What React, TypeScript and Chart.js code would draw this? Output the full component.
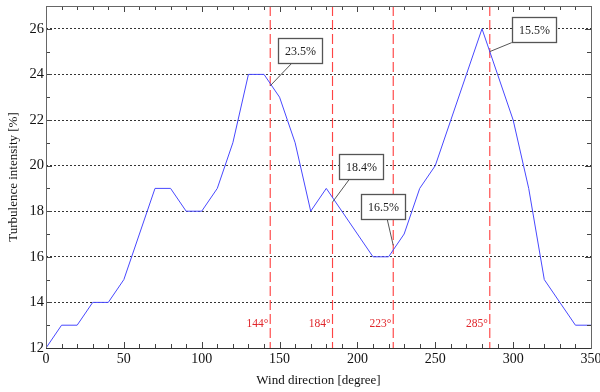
import React, { useEffect, useRef } from "react";
import { Chart, registerables } from "chart.js";

Chart.register(...registerables);

const directions = [0, 10, 20, 30, 40, 50, 60, 70, 80, 90, 100, 110, 120, 130, 140, 150, 160, 170, 180, 190, 200, 210, 220, 230, 240, 250, 260, 270, 280, 290, 300, 310, 320, 330, 340, 350];
const turbulence = [12, 13, 13, 14, 14, 15, 17, 19, 19, 18, 18, 19, 21, 24, 24, 23, 21, 18, 19, 18, 17, 16, 16, 17, 19, 20, 22, 24, 26, 24, 22, 19, 15, 14, 13, 13];

const markerAngles = [144, 184, 223, 285];
const markerLabels = ["144°", "184°", "223°", "285°"];

const calloutTexts = ["23.5%", "18.4%", "16.5%", "15.5%"];
const calloutX = [144, 184, 223, 285];
const calloutY = [23.5, 18.4, 16.5, 25];

// pixel layout of callout boxes relative to anchor: [boxLeft, boxTop, attachX, attachY]
const calloutLayout = [
  [8, -48, 22, -23],
  [6, -48, 17, -23],
  [-32, -51, -6, -26],
  [22, -35, 22, -9],
];

const FONT = "'Liberation Serif', 'Times New Roman', serif";

const decorPlugin = {
  id: "decor",
  beforeDatasetsDraw(chart: any) {
    const { ctx, chartArea, scales } = chart;
    const xs = scales.x;
    ctx.save();
    ctx.lineWidth = 1.15;
    ctx.setLineDash([10, 4]);
    markerAngles.forEach((a) => {
      const px = xs.getPixelForValue(a);
      ctx.strokeStyle = "#ff4545";
      ctx.beginPath();
      ctx.moveTo(px, chartArea.top);
      ctx.lineTo(px, chartArea.bottom);
      ctx.stroke();
    });
    ctx.setLineDash([]);
    ctx.fillStyle = "#e0262b";
    ctx.font = `11.5px ${FONT}`;
    ctx.textAlign = "right";
    ctx.textBaseline = "middle";
    markerAngles.forEach((a, i) => {
      const px = xs.getPixelForValue(a);
      ctx.fillText(markerLabels[i], px - 2, chartArea.bottom - 24);
    });
    ctx.restore();
  },
  afterDraw(chart: any) {
    const { ctx, chartArea, scales } = chart;
    const xs = scales.x;
    const ys = scales.y;
    const { left, right, top, bottom } = chartArea;
    ctx.save();
    ctx.strokeStyle = "#444";
    ctx.lineWidth = 1;
    for (let v = 0; v <= 350; v += 10) {
      const px = Math.round(xs.getPixelForValue(v)) + 0.5;
      const len = v % 50 === 0 ? 6 : 4;
      ctx.beginPath();
      ctx.moveTo(px, bottom);
      ctx.lineTo(px, bottom - len);
      ctx.moveTo(px, top);
      ctx.lineTo(px, top + len);
      ctx.stroke();
    }
    for (let v = 12; v <= 27; v += 1) {
      const py = Math.round(ys.getPixelForValue(v)) + 0.5;
      const len = v % 2 === 0 ? 6 : 4;
      ctx.beginPath();
      ctx.moveTo(left, py);
      ctx.lineTo(left + len, py);
      ctx.moveTo(right, py);
      ctx.lineTo(right - len, py);
      ctx.stroke();
    }
    ctx.strokeStyle = "#666";
    ctx.strokeRect(Math.round(left) + 0.5, Math.round(top) + 0.5, Math.round(right - left), Math.round(bottom - top));
    ctx.strokeStyle = "#333";
    ctx.beginPath();
    ctx.moveTo(left, Math.round(bottom) + 0.5);
    ctx.lineTo(right, Math.round(bottom) + 0.5);
    ctx.stroke();

    ctx.font = `12px ${FONT}`;
    ctx.textAlign = "center";
    ctx.textBaseline = "middle";
    calloutTexts.forEach((t, i) => {
      const ax = xs.getPixelForValue(calloutX[i]);
      const ay = ys.getPixelForValue(calloutY[i]);
      const [bl, bt, tx, ty] = calloutLayout[i];
      const bx = Math.round(ax + bl) + 0.5;
      const by = Math.round(ay + bt) + 0.5;
      const w = 44;
      const h = 25;
      ctx.strokeStyle = "#555";
      ctx.lineWidth = 1;
      ctx.beginPath();
      ctx.moveTo(ax, ay);
      ctx.lineTo(ax + tx, ay + ty);
      ctx.stroke();
      ctx.fillStyle = "#fff";
      ctx.fillRect(bx, by, w, h);
      ctx.strokeStyle = "#555";
      ctx.lineWidth = 1.3;
      ctx.strokeRect(bx, by, w, h);
      ctx.fillStyle = "#222";
      ctx.fillText(t, bx + w / 2, by + h / 2 + 1);
    });
    ctx.restore();
  },
};

export default function App() {
  const ref = useRef<HTMLCanvasElement>(null);
  useEffect(() => {
    if (!ref.current) return;
    const chart = new Chart(ref.current, {
      type: "line",
      data: {
        datasets: [
          {
            data: directions.map((d, i) => ({ x: d, y: turbulence[i] })),
            borderColor: "#4848ff",
            borderWidth: 1,
            pointRadius: 0,
            tension: 0,
            fill: false,
          },
        ],
      },
      options: {
        animation: false,
        responsive: false,
        events: [],
        layout: { padding: { top: 6, right: 9, left: 0, bottom: 0 } },
        plugins: { legend: { display: false }, tooltip: { enabled: false } },
        scales: {
          x: {
            type: "linear",
            min: 0,
            max: 350,
            ticks: {
              stepSize: 50,
              color: "#111",
              font: { family: FONT, size: 14 },
              padding: 3,
              maxRotation: 0,
            },
            grid: { display: false, drawTicks: false },
            border: { display: false },
            title: {
              display: true,
              text: "Wind direction [degree]",
              color: "#111",
              font: { family: FONT, size: 13, lineHeight: 1.8 },
              padding: 0,
            },
            afterFit(scale: any) {
              scale.height = 44;
              scale.paddingLeft = 0;
              scale.paddingRight = 0;
            },
          },
          y: {
            type: "linear",
            min: 12,
            max: 27,
            ticks: {
              stepSize: 2,
              color: "#111",
              font: { family: FONT, size: 14.5 },
              padding: 2,
            },
            afterBuildTicks(scale: any) {
              scale.ticks = scale.ticks.filter((t: any) => t.value % 2 === 0);
            },
            grid: { display: true, drawTicks: false, color: "#333", lineWidth: 1 },
            border: { display: false, dash: [2, 2] },
            title: {
              display: true,
              text: "Turbulence intensity [%]",
              color: "#111",
              font: { family: FONT, size: 13, lineHeight: 2.1 },
              padding: 0,
            },
            afterFit(scale: any) {
              scale.width = 46;
              scale.paddingTop = 0;
              scale.paddingBottom = 0;
            },
          },
        },
      },
      plugins: [decorPlugin],
    });
    return () => chart.destroy();
  }, []);
  return (
    <div style={{ position: "fixed", left: 0, top: 0, width: 600, height: 392, background: "#fff" }}>
      <canvas ref={ref} width={600} height={392} />
    </div>
  );
}
